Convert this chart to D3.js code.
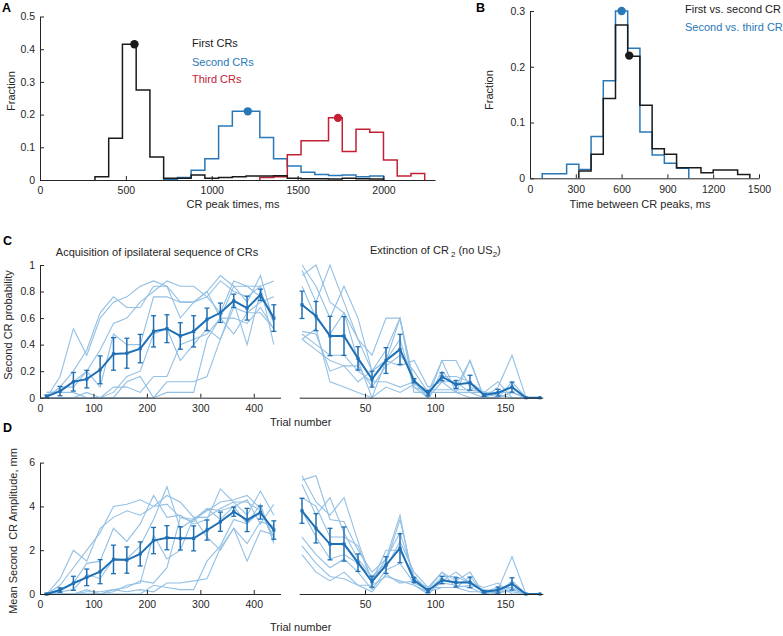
<!DOCTYPE html>
<html><head><meta charset="utf-8">
<script src="https://cdn.jsdelivr.net/npm/d3@7"></script>
<style>
body{margin:0;background:#fff;}
svg{font-family:"Liberation Sans",Arial,Helvetica,sans-serif;}
.axis text{font-size:10.5px;fill:#262626;}
.axis path,.axis line{stroke:#262626;}
</style></head>
<body>
<script>
// ---------- Panel A: CR peak time histograms (80 ms bins) ----------
const binWidth = 80;
const firstCRsStart = 320;
const firstCRs = [0.01,0.128,0.415,0.275,0.07,0.005,0.005,0.015,0.005,0.008,0.01,0.012,0.012,0.013,0.005,0.004,0.004,0.003,0.005,0.004,0.003];
const secondCRsStart = 720;
const secondCRs = [0.002,0.008,0.03,0.065,0.165,0.21,0.21,0.13,0.065,0.043,0.024,0.017,0.014,0.015,0.01,0.012];
const thirdCRsStart = 1280;
const thirdCRs = [0.008,0.01,0.077,0.12,0.12,0.19,0.087,0.155,0.146,0.061,0.012,0.02];
const peaksA = [[550,0.415],[1210,0.21],[1735,0.19]];
const ticksAx = [0,500,1000,1500,2000];
const ticksAy = [0,0.1,0.2,0.3,0.4,0.5];

// ---------- Panel B: time between peaks ----------
const firstVsSecondStart = 320;
const firstVsSecond = [0.013,0.043,0.143,0.275,0.219,0.131,0.053,0.043,0.019,0.019,0.01,0.015,0.015,0.007];
const secondVsThirdStart = 80;
const secondVsThird = [0.008,0.008,0.025,0.016,0.075,0.175,0.3,0.233,0.083,0.042,0.027,0.018];
const peakFirstVsSecond = [650,0.22];
const peakSecondVsThird = [600,0.3];
const ticksBx = [0,300,600,900,1200,1500];
const ticksBy = [0,0.1,0.2,0.3];

// ---------- Panels C/D ----------
const acqTrials = [12.5,37.5,62.5,87.5,112.5,137.5,162.5,187.5,212.5,237.5,262.5,287.5,312.5,337.5,362.5,387.5,412.5,437.5];
const extTrials = [5,15,25,35,45,55,65,75,85,95,105,115,125,135,145,155,165,175];

const probAcqMean = [0.01,0.05,0.12,0.14,0.21,0.33,0.335,0.37,0.5,0.52,0.465,0.5,0.59,0.64,0.73,0.675,0.775,0.6];
const probAcqErr  = [0.01,0.035,0.07,0.066,0.105,0.123,0.113,0.107,0.118,0.105,0.1,0.118,0.085,0.073,0.05,0.09,0.043,0.1];
const probAcqAnimals = [
 [0,0.16,0.52,0.32,0.6,0.72,0.76,0.84,0.88,0.84,0.72,0.72,0.8,0.92,0.84,0.72,0.92,0.56],
 [0,0.08,0.2,0.36,0.64,0.76,0.68,0.68,0.84,0.84,0.6,0.72,0.76,0.88,0.8,0.76,0.84,0.88],
 [0.04,0.04,0.12,0.2,0.36,0.56,0.6,0.72,0.8,0.88,0.84,0.84,0.76,0.64,0.88,0.84,0.76,0.6],
 [0,0.08,0.08,0.2,0.08,0.48,0.4,0.4,0.76,0.76,0.72,0.72,0.8,0.6,0.84,0.84,0.84,0.4],
 [0,0,0,0.04,0,0.04,0.16,0.2,0.48,0.52,0.28,0.4,0.52,0.44,0.68,0.64,0.72,0.76],
 [0.04,0.04,0.04,0,0,0,0.12,0.16,0,0.12,0.12,0.12,0.16,0.44,0.72,0.4,0.8,0.56],
 [0,0,0,0,0,0.08,0.08,0.04,0.16,0.16,0.4,0.44,0.48,0.6,0.6,0.56,0.68,0.52],
 [0,0,0,0,0,0,0,0,0,0.04,0.04,0.04,0.44,0.6,0.48,0.64,0.64,0.52]
];
const probExtMean = [0.7,0.615,0.465,0.465,0.296,0.14,0.28,0.364,0.128,0.033,0.158,0.1,0.113,0.02,0.038,0.08,0,0];
const probExtErr  = [0.103,0.11,0.148,0.146,0.088,0.06,0.097,0.113,0.016,0.02,0.03,0.03,0.056,0.01,0.025,0.038,0,0];
const probExtAnimals = [
 [1.0,0.84,0.6,0.84,0.6,0.2,0.36,0.6,0.12,0,0.2,0.08,0.28,0,0,0.04,0,0],
 [0.96,0.72,1.0,0.72,0.44,0.32,0.6,0.6,0.08,0,0.28,0.28,0.08,0.04,0.12,0,0,0],
 [0.92,1.0,0.72,0.64,0.28,0,0.28,0.44,0.08,0.04,0.28,0.04,0.28,0,0.08,0.32,0,0],
 [0.84,0.6,0.48,0.64,0.44,0.2,0.28,0.24,0.28,0.08,0.12,0.12,0.04,0.04,0,0.12,0,0],
 [0.5,0.48,0.2,0.24,0.24,0.08,0.24,0.32,0.2,0.04,0.16,0.16,0.12,0.04,0.04,0.04,0,0],
 [0.48,0.4,0.32,0.32,0.2,0.12,0.12,0.08,0.12,0,0.12,0.04,0,0,0.04,0.08,0,0],
 [0.44,0.36,0.28,0.24,0.12,0.2,0.28,0.6,0.04,0.04,0.04,0.04,0.04,0,0,0.04,0,0],
 [0.44,0.52,0.12,0.08,0.04,0,0.08,0.04,0.1,0.06,0.06,0.06,0.06,0.04,0.02,0,0,0]
];

const ampAcqMean = [0,0.18,0.49,0.76,1.02,1.58,1.55,1.83,2.44,2.57,2.54,2.54,2.92,3.3,3.76,3.38,3.72,2.92];
const ampAcqErr  = [0.03,0.1,0.32,0.38,0.55,0.65,0.6,0.55,0.6,0.55,0.53,0.57,0.46,0.44,0.21,0.53,0.3,0.42];
const ampAcqAnimals = [
 [0,0.7,2.0,1.5,3.0,3.5,3.8,3.6,4.0,4.1,3.5,3.4,3.8,4.2,4.3,4.5,3.9,2.4],
 [0,0.4,1.2,2.0,2.8,4.0,4.1,4.3,4.0,4.5,4.2,3.5,3.5,3.9,4.2,4.2,3.8,2.6],
 [0,0.2,0.5,1.4,1.5,3.0,2.4,3.2,4.5,3.5,3.6,3.2,3.4,4.8,4.2,3.6,4.7,3.6],
 [0,0.1,0.2,0.9,0.7,1.6,1.6,2.2,3.4,4.9,3.0,3.4,3.9,3.8,4.0,4.3,3.2,4.1],
 [0,0,0,0.1,0.1,0.2,0.3,0.6,0.5,1.2,3.5,3.3,3.9,3.4,4.0,3.2,4.1,2.3],
 [0,0,0,0.2,0,0.1,0.4,0.5,2.7,1.6,2.0,3.5,2.6,2.0,3.0,1.5,2.9,2.7],
 [0,0,0,0,0,0.2,0.1,0.2,0.1,0.5,0.5,0.6,0.7,2.1,3.0,2.3,3.3,3.1],
 [0,0,0,0,0,0,0,0,0.4,0.3,0.2,0.2,1.5,2.2,3.4,3.2,3.8,2.6]
];
const ampExtMean = [3.8,3.0,2.28,2.28,1.43,0.56,1.32,2.09,0.64,0.15,0.64,0.53,0.53,0.1,0.18,0.46,0,0];
const ampExtErr  = [0.57,0.67,0.72,0.78,0.4,0.25,0.38,0.66,0.12,0.09,0.17,0.21,0.24,0.05,0.14,0.28,0,0];
const ampExtAnimals = [
 [5.4,4.2,3.6,4.4,2.4,0.6,1.6,2.8,0.8,0.2,1.0,0.3,0.8,0,0.1,0.1,0,0],
 [5.2,5.4,3.4,3.3,2.0,1.0,1.6,3.6,0.4,0,0.6,1.0,0.5,0.3,0.5,0,0,0],
 [5.0,3.6,4.4,2.8,1.6,0.8,1.2,2.4,1.0,0.3,1.0,0.6,1.0,0,0.2,1.7,0,0],
 [4.4,4.0,2.6,2.6,2.2,0.6,2.0,2.0,0.8,0.1,0.8,0.8,0.5,0.1,0,0.6,0,0],
 [3.8,2.6,1.6,1.8,1.4,0.8,1.4,3.4,0.6,0.2,0.6,0.5,0.6,0.1,0.3,0.3,0,0],
 [2.6,1.8,1.2,1.6,1.0,0.2,1.1,1.4,0.5,0.2,0.5,0.4,0.3,0,0.2,0.5,0,0],
 [2.2,1.4,0.8,0.7,0.4,0.4,0.8,0.6,0.4,0.1,0.3,0.3,0.4,0.2,0.1,0.3,0,0],
 [1.8,1.0,0.6,1.0,0.4,0.1,0.9,0.5,0.6,0.3,0.3,0.3,0.1,0.1,0.04,0.2,0,0]
];
const ticksAcqX = [0,100,200,300,400];
const ticksExtX = [50,100,150];
const ticksProbY = [0,0.2,0.4,0.6,0.8,1];
const ticksAmpY = [0,2,4,6];

// ---------- colours ----------
const cBlack = "#1a1a1a", cBlue = "#2878b8", cRed = "#c32033";
const cMean = "#1f6fb4", cLight = "#93c0e4", cAxis = "#262626";

const W = 783, H = 636;
const svg = d3.select("body").append("svg").attr("width", W).attr("height", H);

function fmt(d){ return d3.format("~g")(d); }

function bottomAxis(g, x, ticks, yPos){
  g.append("g").attr("class","axis").attr("transform",`translate(0,${yPos})`)
   .call(d3.axisBottom(x).tickValues(ticks).tickFormat(fmt).tickSizeInner(-4).tickSizeOuter(0).tickPadding(7));
}
function leftAxis(g, y, ticks, xPos){
  g.append("g").attr("class","axis").attr("transform",`translate(${xPos},0)`)
   .call(d3.axisLeft(y).tickValues(ticks).tickFormat(fmt).tickSizeInner(-4).tickSizeOuter(0).tickPadding(5));
}
function stairs(g, x, y, start, vals, color){
  const pts = [[start,0]];
  vals.forEach((v,i)=>{ pts.push([start+i*binWidth, v]); pts.push([start+(i+1)*binWidth, v]); });
  pts.push([start+vals.length*binWidth, 0]);
  g.append("path").attr("d", d3.line().x(d=>x(d[0])).y(d=>y(d[1]))(pts))
   .attr("fill","none").attr("stroke",color).attr("stroke-width",1.5);
}
function txt(x,y,s,opt={}){
  const t = svg.append("text").attr("x",x).attr("y",y).text(s)
    .attr("font-size",opt.size||11).attr("fill",opt.color||cAxis);
  if(opt.anchor) t.attr("text-anchor",opt.anchor);
  if(opt.bold) t.attr("font-weight","bold");
  return t;
}
function vtxt(x,y,s,size){
  return svg.append("text").attr("transform",`translate(${x},${y}) rotate(-90)`)
    .attr("text-anchor","middle").attr("font-size",size||11).attr("fill",cAxis)
    .style("white-space","pre").text(s);
}

// ---------- Panel A ----------
{
  const g = svg.append("g");
  const x = d3.scaleLinear().domain([0,2300]).range([40,435]);
  const y = d3.scaleLinear().domain([0,0.5]).range([180,16.5]);
  stairs(g,x,y,secondCRsStart,secondCRs,cBlue);
  stairs(g,x,y,thirdCRsStart,thirdCRs,cRed);
  stairs(g,x,y,firstCRsStart,firstCRs,cBlack);
  bottomAxis(g,x,ticksAx,180);
  leftAxis(g,y,ticksAy,40);
  const cols = [cBlack,cBlue,cRed];
  peaksA.forEach((p,i)=> g.append("circle").attr("cx",x(p[0])).attr("cy",y(p[1])).attr("r",4.2).attr("fill",cols[i]));
  txt(192,47,"First CRs",{color:cBlack});
  txt(192,65.5,"Second CRs",{color:cBlue});
  txt(192,83,"Third CRs",{color:cRed});
  vtxt(15,91,"Fraction");
  txt(233,208,"CR peak times, ms",{anchor:"middle"});
  txt(2,12,"A",{bold:true,size:12.5,color:"#000"});
}

// ---------- Panel B ----------
{
  const g = svg.append("g");
  const x = d3.scaleLinear().domain([0,1500]).range([530,759]);
  const y = d3.scaleLinear().domain([0,0.3]).range([178.3,11]);
  stairs(g,x,y,secondVsThirdStart,secondVsThird,cBlue);
  stairs(g,x,y,firstVsSecondStart,firstVsSecond,cBlack);
  bottomAxis(g,x,ticksBx,178.3);
  leftAxis(g,y,ticksBy,530);
  g.append("circle").attr("cx",x(peakSecondVsThird[0])).attr("cy",y(peakSecondVsThird[1])).attr("r",4.2).attr("fill",cBlue);
  g.append("circle").attr("cx",x(peakFirstVsSecond[0])).attr("cy",y(peakFirstVsSecond[1])).attr("r",4.2).attr("fill",cBlack);
  txt(685,13,"First vs. second CR",{color:cBlack});
  txt(685,31,"Second vs. third CR",{color:cBlue});
  vtxt(493,90,"Fraction");
  txt(640,208,"Time between CR peaks, ms",{anchor:"middle"});
  txt(476,12,"B",{bold:true,size:12.5,color:"#000"});
}

// ---------- learning-curve panels ----------
function curvePanel(x, y, trials, animals, mean, err){
  const g = svg.append("g");
  const line = d3.line().x((d,i)=>x(trials[i])).y(d=>y(d));
  animals.forEach(a=> g.append("path").attr("d",line(a)).attr("fill","none")
     .attr("stroke",cLight).attr("stroke-width",1.1));
  g.append("path").attr("d",line(mean)).attr("fill","none").attr("stroke",cMean).attr("stroke-width",2);
  mean.forEach((m,i)=>{
    const cx = x(trials[i]);
    const e = err[i];
    if(e>0){
      g.append("line").attr("x1",cx).attr("x2",cx).attr("y1",y(m-e)).attr("y2",y(m+e))
        .attr("stroke",cMean).attr("stroke-width",1.5);
      [m-e,m+e].forEach(v=> g.append("line").attr("x1",cx-2.5).attr("x2",cx+2.5)
        .attr("y1",y(v)).attr("y2",y(v)).attr("stroke",cMean).attr("stroke-width",1.3));
    }
    g.append("rect").attr("x",cx-1.6).attr("y",y(m)-1.6).attr("width",3.2).attr("height",3.2).attr("fill",cMean);
  });
  return g;
}

const xAcq = d3.scaleLinear().domain([0,450]).range([40,280.5]);
const xExt = d3.scaleLinear().domain([3,177]).range([299.2,542.8]);

// Panel C
{
  const y = d3.scaleLinear().domain([0,1]).range([397.7,265]);
  const g1 = curvePanel(xAcq, y, acqTrials, probAcqAnimals, probAcqMean, probAcqErr);
  bottomAxis(g1,xAcq,ticksAcqX,397.7);
  leftAxis(g1,y,ticksProbY,40);
  const g2 = curvePanel(xExt, y, extTrials, probExtAnimals, probExtMean, probExtErr);
  bottomAxis(g2,xExt,ticksExtX,397.7);
  txt(157,256,"Acquisition of ipsilateral sequence of CRs",{anchor:"middle"});
  const t = txt(370,254,"Extinction of CR");
  t.append("tspan").attr("font-size",8).attr("dx",2).attr("dy",2.5).text("2");
  t.append("tspan").attr("dy",-2.5).text(" (no US");
  t.append("tspan").attr("font-size",8).attr("dy",2.5).text("2");
  t.append("tspan").attr("dy",-2.5).text(")");
  vtxt(11.5,325,"Second CR probability");
  txt(270,426,"Trial number");
  txt(3,245,"C",{bold:true,size:12.5,color:"#000"});
}

// Panel D
{
  const y = d3.scaleLinear().domain([0,6]).range([594,462.6]);
  const g1 = curvePanel(xAcq, y, acqTrials, ampAcqAnimals, ampAcqMean, ampAcqErr);
  bottomAxis(g1,xAcq,ticksAcqX,594);
  leftAxis(g1,y,ticksAmpY,40);
  const g2 = curvePanel(xExt, y, extTrials, ampExtAnimals, ampExtMean, ampExtErr);
  bottomAxis(g2,xExt,ticksExtX,594);
  vtxt(17,531,"Mean Second  CR Amplitude, mm");
  txt(270,631,"Trial number");
  txt(3,432,"D",{bold:true,size:12.5,color:"#000"});
}
</script>
</body></html>
